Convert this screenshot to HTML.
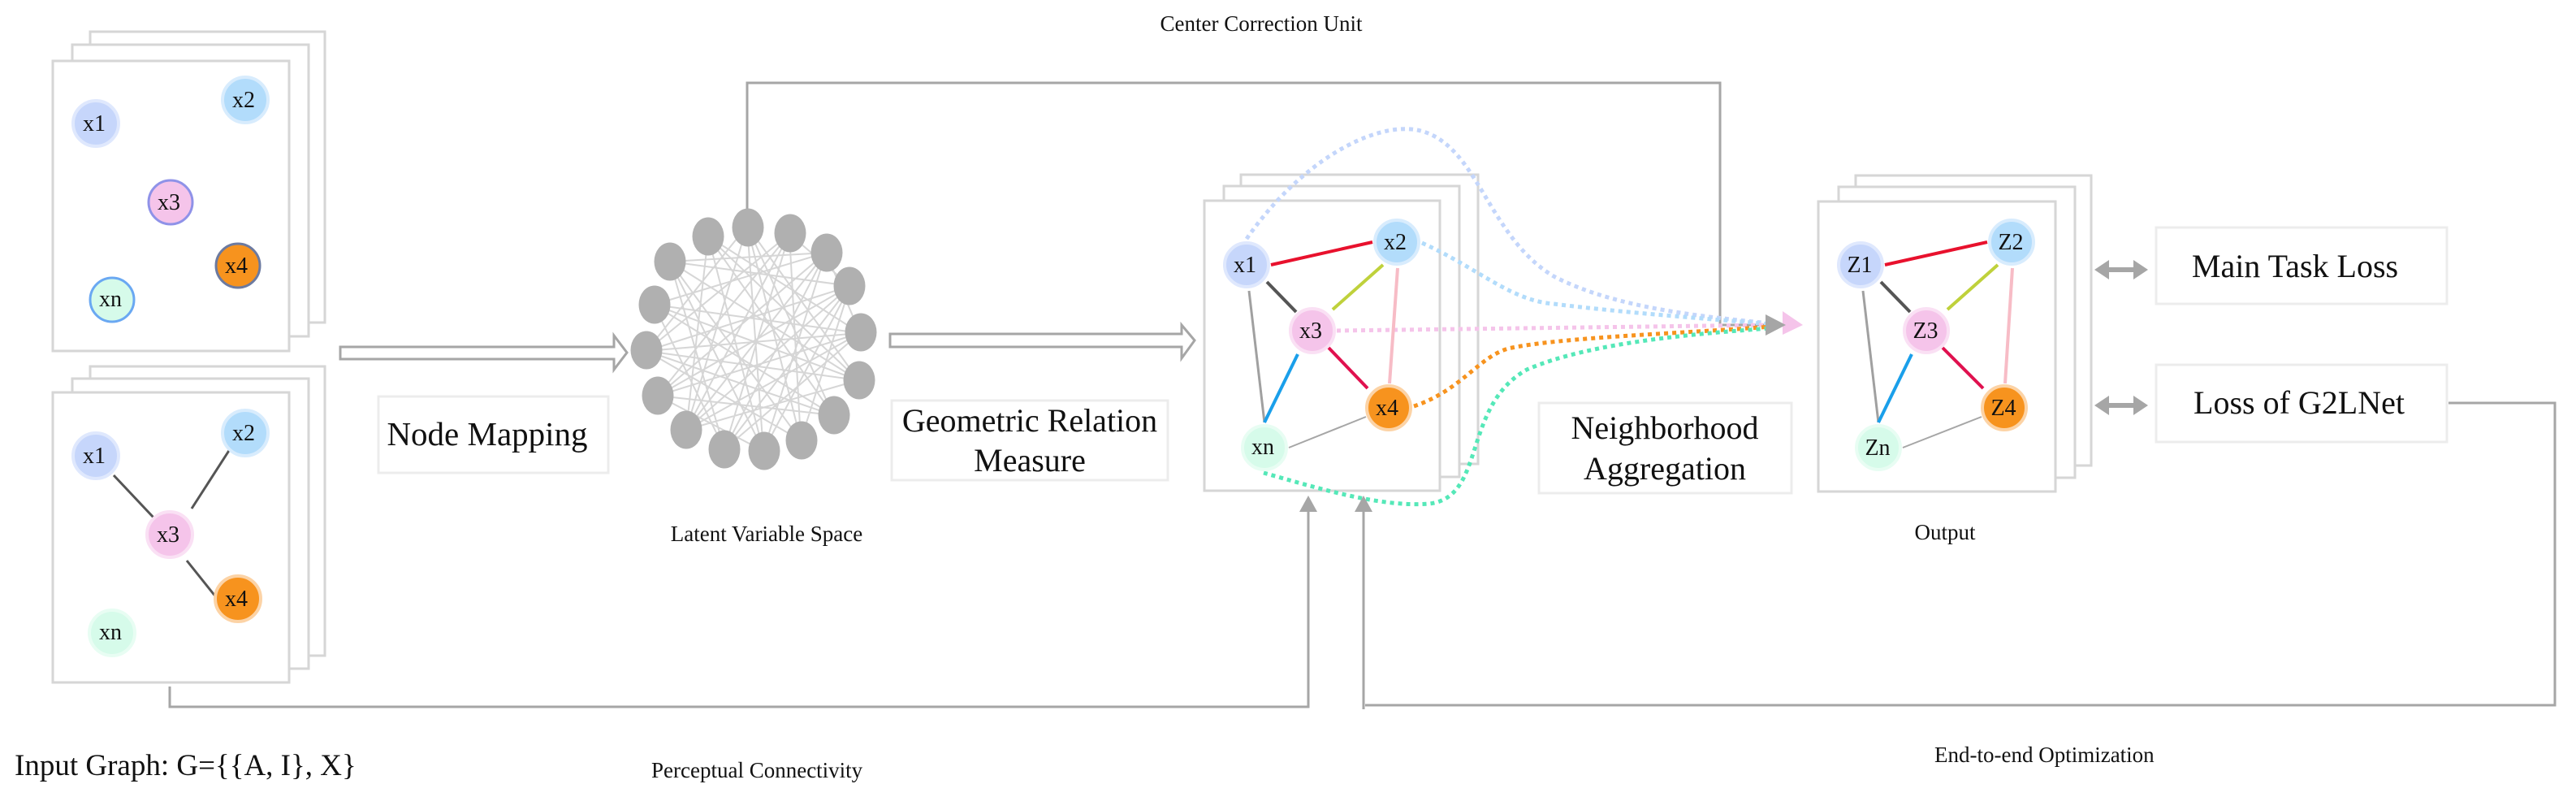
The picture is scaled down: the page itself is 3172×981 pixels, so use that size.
<!DOCTYPE html>
<html><head><meta charset="utf-8"><style>
html,body{margin:0;padding:0;background:#fff;}
svg{display:block;}
text{font-family:"Liberation Serif",serif;fill:#111;}
</style></head><body>
<svg width="3172" height="981" viewBox="0 0 3172 981" xmlns="http://www.w3.org/2000/svg">
<defs>
<g id="none"></g>
</defs>

<!-- Input stacks -->
<g fill="#fff" stroke="#d6d6d6" stroke-width="3">
<rect x="111" y="39" width="289" height="358"/>
<rect x="89" y="55" width="291" height="359"/>
<rect x="65" y="75" width="291" height="357"/>
<rect x="111" y="451" width="289" height="356"/>
<rect x="89" y="466" width="291" height="357"/>
<rect x="65" y="483" width="291" height="357"/>
</g>

<!-- top input nodes -->
<g font-size="28" text-anchor="middle">
<circle cx="118" cy="152" r="28" fill="#c6d6fb" stroke="#dfe8fd" stroke-width="4"/><text x="116" y="161">x1</text>
<circle cx="302" cy="123" r="28" fill="#b2dcfb" stroke="#d8ecfd" stroke-width="4"/><text x="300" y="132">x2</text>
<circle cx="210" cy="249" r="27" fill="#f5c4ea" stroke="#8f92e8" stroke-width="3"/><text x="208" y="258">x3</text>
<circle cx="293" cy="327" r="27" fill="#f7931e" stroke="#6c7aa0" stroke-width="3"/><text x="291" y="336">x4</text>
<circle cx="138" cy="369" r="27" fill="#d6fbea" stroke="#6aa8f2" stroke-width="3"/><text x="136" y="377">xn</text>
</g>

<!-- bottom input nodes -->
<g stroke="#555" stroke-width="3">
<line x1="140" y1="585" x2="190" y2="638"/>
<line x1="283" y1="553" x2="236" y2="626"/>
<line x1="230" y1="690" x2="266" y2="735"/>
</g>
<g font-size="28" text-anchor="middle">
<circle cx="118" cy="561" r="28" fill="#c6d6fb" stroke="#dfe8fd" stroke-width="4"/><text x="116" y="570">x1</text>
<circle cx="302" cy="533" r="28" fill="#b2dcfb" stroke="#d8ecfd" stroke-width="4"/><text x="300" y="542">x2</text>
<circle cx="209" cy="658" r="28" fill="#f5c4ea" stroke="#fae0f4" stroke-width="4"/><text x="207" y="667">x3</text>
<circle cx="293" cy="737" r="28" fill="#f7931e" stroke="#fcd3a6" stroke-width="4"/><text x="291" y="746">x4</text>
<circle cx="138" cy="779" r="28" fill="#d6fbea" stroke="#e8fdf3" stroke-width="4"/><text x="136" y="787">xn</text>
</g>

<!-- hollow arrow 1 -->
<polygon points="419,427 756,427 756,413 772,434 756,455 756,442 419,442" fill="#fff" stroke="#a6a6a6" stroke-width="3"/>
<!-- Node mapping box -->
<rect x="466" y="488" width="283" height="94" fill="#fff" stroke="#ececec" stroke-width="3"/>
<text x="600" y="548" font-size="41" text-anchor="middle">Node Mapping</text>

<!-- Center correction connector -->
<polyline points="920,262 920,102 2118,102 2118,400 2178,400" fill="none" stroke="#a6a6a6" stroke-width="3"/>

<!-- Latent space edges -->
<path stroke="#d6d6d6" stroke-width="2" fill="none" d="
M920 278L940 555M920 278L845 529M920 278L1026 511M972 288L892 553M972 288L796 432M972 288L986 542
M1017 311L810 487M1017 311L805 375M1017 311L940 555M1047 352L796 432M1047 352L845 529M1047 352L825 322
M1059 410L805 375M1059 410L810 487M1059 410L892 553M1057 468L825 322M1057 468L872 291M1057 468L796 432
M1026 511L872 291M1026 511L805 375M986 542L825 322M986 542L920 278M940 555L872 291M940 555L1047 352
M892 553L1017 311M892 553L825 322M845 529L972 288M845 529L1057 468M810 487L1047 352M810 487L1026 511
M796 432L986 542M796 432L1059 410M805 375L1026 511M805 375L892 553M825 322L940 555M872 291L845 529
M872 291L1059 410M920 278L796 432M972 288L810 487M1017 311L845 529M1047 352L892 553M1057 468L920 278
M1017 311L1059 410M972 288L1047 352M825 322L1017 311M805 375L1057 468M810 487L940 555M1026 511L796 432
M986 542L1047 352M892 553L972 288M920 278L1057 468M845 529L1059 410"/>
<g fill="#b0b0b0">
<ellipse cx="921" cy="280" rx="19.5" ry="23.5"/><ellipse cx="973" cy="287" rx="19.5" ry="23.5"/>
<ellipse cx="1018" cy="311" rx="19.5" ry="23.5"/><ellipse cx="1046" cy="352" rx="19.5" ry="23.5"/>
<ellipse cx="1060" cy="409" rx="19.5" ry="23.5"/><ellipse cx="1058" cy="468" rx="19.5" ry="23.5"/>
<ellipse cx="1027" cy="511" rx="19.5" ry="23.5"/><ellipse cx="987" cy="542" rx="19.5" ry="23.5"/>
<ellipse cx="941" cy="555" rx="19.5" ry="23.5"/><ellipse cx="892" cy="553" rx="19.5" ry="23.5"/>
<ellipse cx="845" cy="529" rx="19.5" ry="23.5"/><ellipse cx="810" cy="487" rx="19.5" ry="23.5"/>
<ellipse cx="796" cy="431" rx="19.5" ry="23.5"/><ellipse cx="806" cy="375" rx="19.5" ry="23.5"/>
<ellipse cx="825" cy="322" rx="19.5" ry="23.5"/><ellipse cx="872" cy="291" rx="19.5" ry="23.5"/>
</g>
<text x="944" y="666" font-size="27" text-anchor="middle">Latent Variable Space</text>

<!-- hollow arrow 2 -->
<polygon points="1096,411 1455,411 1455,400 1471,419 1455,441 1455,427 1096,427" fill="#fff" stroke="#a6a6a6" stroke-width="3"/>
<rect x="1098" y="493" width="340" height="98" fill="#fff" stroke="#ececec" stroke-width="3"/>
<text x="1268" y="531" font-size="40" text-anchor="middle">Geometric Relation</text>
<text x="1268" y="580" font-size="40" text-anchor="middle">Measure</text>

<!-- Middle stack -->
<g fill="#fff" stroke="#d6d6d6" stroke-width="3">
<rect x="1528" y="215" width="292" height="356"/>
<rect x="1507" y="229" width="290" height="358"/>
<rect x="1483" y="247" width="290" height="357"/>
</g>

<!-- Dotted curves -->
<g fill="none" stroke-width="5" stroke-dasharray="5 5">
<path d="M1535 294 C1600 200 1690 150 1745 160 C1820 175 1830 290 1913 340 C1990 380 2100 390 2180 398" stroke="#c4d6fb"/>
<path d="M1751 299 C1820 330 1860 370 1913 374 C2000 385 2100 392 2180 399" stroke="#b2dcfb"/>
<path d="M1646 407 L2180 400" stroke="#f5c4ea"/>
<path d="M1741 500 C1800 480 1820 440 1857 429 C1920 415 2080 410 2180 402" stroke="#f7931e"/>
<path d="M1556 582 C1620 600 1700 625 1760 620 C1830 612 1800 500 1880 455 C1960 420 2100 410 2180 404" stroke="#55e8b8"/>
</g>
<polygon points="2195,383 2220,400 2195,412" fill="#f5c4ea"/>
<polygon points="2174,387 2199,400 2174,413" fill="#a6a6a6"/>

<!-- Middle graph edges -->
<g stroke-width="4">
<line x1="1565" y1="326" x2="1690" y2="298" stroke="#e8112d"/>
<line x1="1560" y1="347" x2="1596" y2="384" stroke="#555"/>
<line x1="1538" y1="358" x2="1557" y2="520" stroke="#a0a0a0" stroke-width="3"/>
<line x1="1703" y1="326" x2="1641" y2="381" stroke="#bfd13b"/>
<line x1="1721" y1="330" x2="1711" y2="472" stroke="#f7bcc6"/>
<line x1="1636" y1="428" x2="1684" y2="478" stroke="#e0114f"/>
<line x1="1598" y1="436" x2="1557" y2="520" stroke="#1a9fea"/>
<line x1="1587" y1="551" x2="1682" y2="513" stroke="#a6a6a6" stroke-width="2"/>
</g>
<g font-size="28" text-anchor="middle">
<circle cx="1535" cy="326" r="27" fill="#c6d6fb" stroke="#dfe8fd" stroke-width="4"/><text x="1533" y="335">x1</text>
<circle cx="1720" cy="298" r="27" fill="#b2dcfb" stroke="#d8ecfd" stroke-width="4"/><text x="1718" y="307">x2</text>
<circle cx="1616" cy="407" r="27" fill="#f5c4ea" stroke="#fae0f4" stroke-width="4"/><text x="1614" y="416">x3</text>
<circle cx="1710" cy="502" r="27" fill="#f7931e" stroke="#fcd3a6" stroke-width="4"/><text x="1708" y="511">x4</text>
<circle cx="1557" cy="551" r="27" fill="#d6fbea" stroke="#e8fdf3" stroke-width="4"/><text x="1555" y="559">xn</text>
</g>

<!-- Neighborhood Aggregation box -->
<rect x="1895" y="496" width="311" height="111" fill="#fff" stroke="#ececec" stroke-width="3"/>
<text x="2050" y="540" font-size="40" text-anchor="middle">Neighborhood</text>
<text x="2050" y="590" font-size="40" text-anchor="middle">Aggregation</text>

<text x="1553" y="38" font-size="27" text-anchor="middle">Center Correction Unit</text>

<!-- Output stack -->
<g fill="#fff" stroke="#d6d6d6" stroke-width="3">
<rect x="2285" y="216" width="290" height="357"/>
<rect x="2264" y="230" width="291" height="358"/>
<rect x="2239" y="248" width="292" height="357"/>
</g>
<g stroke-width="4">
<line x1="2321" y1="326" x2="2447" y2="298" stroke="#e8112d"/>
<line x1="2316" y1="347" x2="2352" y2="384" stroke="#555"/>
<line x1="2294" y1="358" x2="2313" y2="520" stroke="#a0a0a0" stroke-width="3"/>
<line x1="2460" y1="326" x2="2398" y2="381" stroke="#bfd13b"/>
<line x1="2478" y1="330" x2="2469" y2="472" stroke="#f7bcc6"/>
<line x1="2392" y1="428" x2="2442" y2="478" stroke="#e0114f"/>
<line x1="2354" y1="436" x2="2313" y2="520" stroke="#1a9fea"/>
<line x1="2343" y1="551" x2="2440" y2="513" stroke="#a6a6a6" stroke-width="2"/>
</g>
<g font-size="28" text-anchor="middle">
<circle cx="2291" cy="326" r="27" fill="#c6d6fb" stroke="#dfe8fd" stroke-width="4"/><text x="2290" y="335">Z1</text>
<circle cx="2477" cy="298" r="27" fill="#b2dcfb" stroke="#d8ecfd" stroke-width="4"/><text x="2476" y="307">Z2</text>
<circle cx="2372" cy="407" r="27" fill="#f5c4ea" stroke="#fae0f4" stroke-width="4"/><text x="2371" y="416">Z3</text>
<circle cx="2468" cy="502" r="27" fill="#f7931e" stroke="#fcd3a6" stroke-width="4"/><text x="2467" y="511">Z4</text>
<circle cx="2313" cy="551" r="27" fill="#d6fbea" stroke="#e8fdf3" stroke-width="4"/><text x="2312" y="560">Zn</text>
</g>
<text x="2395" y="664" font-size="27" text-anchor="middle">Output</text>

<!-- double arrows -->
<g fill="#a6a6a6">
<polygon points="2579,332 2597,320 2597,329 2627,329 2627,320 2645,332 2627,344 2627,335 2597,335 2597,344"/>
<polygon points="2579,499 2597,487 2597,496 2627,496 2627,487 2645,499 2627,511 2627,502 2597,502 2597,511"/>
</g>
<rect x="2655" y="280" width="358" height="94" fill="#fff" stroke="#ececec" stroke-width="3"/>
<text x="2826" y="341" font-size="40" text-anchor="middle">Main Task Loss</text>
<rect x="2655" y="449" width="358" height="95" fill="#fff" stroke="#ececec" stroke-width="3"/>
<text x="2831" y="509" font-size="40" text-anchor="middle">Loss of G2LNet</text>

<!-- bottom connectors -->
<g fill="none" stroke="#a6a6a6" stroke-width="3">
<polyline points="209,845 209,870 1611,870 1611,625"/>
<polyline points="1679,873 1679,625"/>
<polyline points="1681,868 3146,868 3146,496 3015,496"/>
</g>
<g fill="#a6a6a6">
<polygon points="1611,610 1600,630 1622,630"/>
<polygon points="1679,610 1668,630 1690,630"/>
</g>

<text x="18" y="954" font-size="37">Input Graph: G={{A, I}, X}</text>
<text x="802" y="957" font-size="27">Perceptual Connectivity</text>
<text x="2382" y="938" font-size="27">End-to-end Optimization</text>
</svg>
</body></html>
